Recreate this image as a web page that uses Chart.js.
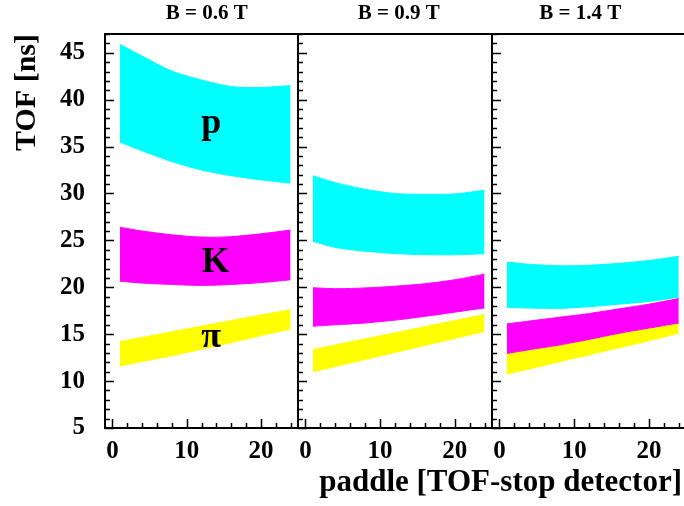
<!DOCTYPE html>
<html>
<head>
<meta charset="utf-8">
<script src="https://cdn.jsdelivr.net/npm/chart.js@4.4.1/dist/chart.umd.min.js"></script>
<style>
  html, body { margin: 0; padding: 0; background: #fff; overflow: hidden; }
  #wrap { position: relative; width: 684px; height: 506px; overflow: hidden; }
  canvas { position: absolute; top: 0; }
  #xTitle { position: absolute; right: 2px; top: 463px; font: bold 31px/36px "Liberation Serif", serif; color: #000; white-space: nowrap; }
</style>
</head>
<body>
<div id="wrap">
  <canvas id="c1" style="left:0" width="298" height="506"></canvas>
  <canvas id="c2" style="left:288px" width="204" height="506"></canvas>
  <canvas id="c3" style="left:482px" width="202" height="506"></canvas>
  <div id="xTitle">paddle [TOF-stop detector]</div>
</div>
<script>
// paddle numbers where the band edges were read
const paddle = [1, 4, 8, 12, 16, 20, 24];
const yTickLabels = [5, 10, 15, 20, 25, 30, 35, 40, 45];
const xTickLabels = [0, 10, 20];
const fields = ["B = 0.6 T", "B = 0.9 T", "B = 1.4 T"];
const particles = ["p", "K", "π"];

// B = 0.6 T
const p06Lo  = [35.5, 34.55, 33.4, 32.5, 31.9, 31.45, 31.1];
const p06Hi  = [45.9, 44.65, 43.05, 42.1, 41.4, 41.3, 41.5];
const k06Lo  = [20.65, 20.45, 20.3, 20.2, 20.3, 20.5, 20.8];
const k06Hi  = [26.4, 26.0, 25.6, 25.35, 25.4, 25.7, 26.1];
const pi06Lo = [11.6, 12.1, 12.7, 13.4, 14.1, 14.85, 15.55];
const pi06Hi = [14.2, 14.65, 15.25, 15.85, 16.45, 17.05, 17.6];

// B = 0.9 T
const p09Lo  = [24.9, 24.25, 23.85, 23.6, 23.48, 23.47, 23.57];
const p09Hi  = [31.9, 31.15, 30.45, 30.0, 29.9, 29.95, 30.35];
const k09Lo  = [15.85, 16.0, 16.2, 16.5, 16.9, 17.35, 17.8];
const k09Hi  = [19.95, 19.85, 19.93, 20.12, 20.38, 20.8, 21.4];
const pi09Lo = [11.0, 11.55, 12.3, 13.05, 13.8, 14.55, 15.3];
const pi09Hi = [13.35, 13.85, 14.5, 15.15, 15.8, 16.45, 17.1];

// B = 1.4 T
const p14Lo  = [17.87, 17.78, 17.75, 17.93, 18.2, 18.48, 18.95];
const p14Hi  = [22.7, 22.45, 22.3, 22.35, 22.55, 22.85, 23.3];
const k14Lo  = [12.95, 13.35, 13.85, 14.45, 15.1, 15.65, 16.2];
const k14Hi  = [16.1, 16.4, 16.8, 17.2, 17.7, 18.2, 18.8];
const pi14Lo = [10.75, 11.3, 12.05, 12.8, 13.55, 14.3, 15.1];
const pi14Hi = [13.2, 13.6, 14.1, 14.7, 15.35, 15.9, 16.45];

const CYAN = "#00ffff", MAGENTA = "#ff00ff", YELLOW = "#ffff00";
const SERIF = '"Liberation Serif", "Times New Roman", serif';

Chart.defaults.font.family = SERIF;
Chart.defaults.font.weight = "bold";
Chart.defaults.color = "#000";

function band(lo, hi, color) {
  const pts = v => paddle.map((x, i) => ({ x, y: v[i] }));
  const common = { borderColor: color, backgroundColor: color, borderWidth: 1, pointRadius: 0, tension: 0.3 };
  return [
    { ...common, data: pts(lo), fill: false },
    { ...common, data: pts(hi), fill: "-1" }
  ];
}

// top frame line, inward ticks, panel title and particle tags
const frame = {
  id: "frame",
  afterDraw(chart, args, opts) {
    const { ctx, chartArea: a, scales: { x, y } } = chart;
    ctx.save();
    ctx.strokeStyle = "#000";
    ctx.lineWidth = 2;
    ctx.beginPath();
    ctx.moveTo(a.left - 1, a.top);
    ctx.lineTo(a.right + 1, a.top);
    ctx.stroke();

    ctx.lineWidth = 1.5;
    ctx.beginPath();
    for (let v = Math.ceil(y.min); v <= y.max; v++) {
      const py = Math.round(y.getPixelForValue(v)) + 0.5;
      ctx.moveTo(a.left, py);
      ctx.lineTo(a.left + (v % 5 === 0 ? 9 : 5), py);
    }
    for (let v = 0; v <= x.max; v += 2) {
      const px = Math.round(x.getPixelForValue(v)) + 0.5;
      ctx.moveTo(px, a.bottom);
      ctx.lineTo(px, a.bottom - (v % 10 === 0 ? 9 : 5));
    }
    ctx.stroke();

    ctx.fillStyle = "#000";
    ctx.textAlign = "center";
    ctx.textBaseline = "middle";
    ctx.font = "bold 21px " + SERIF;
    ctx.fillText(opts.title, x.getPixelForValue(opts.titleAt), 14);

    ctx.textBaseline = "alphabetic";
    ctx.font = "bold 36px " + SERIF;
    (opts.tags || []).forEach(t => {
      ctx.fillText(t.text, x.getPixelForValue(t.x), y.getPixelForValue(t.y));
    });
    ctx.restore();
  }
};

function makePanel(id, sets, cfg) {
  return new Chart(document.getElementById(id), {
    type: "line",
    data: { datasets: sets },
    options: {
      responsive: false,
      animation: false,
      layout: { padding: { top: 34 } },
      plugins: {
        legend: { display: false },
        tooltip: { enabled: false },
        frame: cfg.frame
      },
      scales: {
        x: {
          type: "linear",
          min: -1,
          max: cfg.xMax,
          afterBuildTicks: s => { s.ticks = xTickLabels.map(v => ({ value: v })); },
          afterFit: s => { s.height = 78; },
          grid: { display: false, drawTicks: false },
          border: { display: true, color: "#000", width: 2 },
          ticks: { padding: 9, maxRotation: 0, font: { size: 25, weight: "bold" } }
        },
        y: {
          min: 5,
          max: 47,
          afterBuildTicks: s => { s.ticks = yTickLabels.map(v => ({ value: v })); },
          afterFit: s => { s.width = cfg.yWidth; },
          grid: { display: false, drawTicks: false },
          border: { display: true, color: "#000", width: 2 },
          ticks: { display: cfg.yLabels, padding: 20, font: { size: 25, weight: "bold", lineHeight: 1 } },
          title: {
            display: cfg.yLabels,
            text: "TOF [ns]",
            align: "end",
            padding: { top: 9, bottom: 0 },
            font: { size: 30, weight: "bold" }
          }
        }
      }
    },
    plugins: [frame]
  });
}

makePanel("c1",
  [...band(p06Lo, p06Hi, CYAN), ...band(k06Lo, k06Hi, MAGENTA), ...band(pi06Lo, pi06Hi, YELLOW)],
  {
    xMax: 25, yWidth: 105, yLabels: true,
    frame: {
      title: fields[0], titleAt: 12.7,
      tags: [
        { text: particles[0], x: 13.3, y: 36.5 },
        { text: particles[1], x: 13.9, y: 21.6 },
        { text: particles[2], x: 13.3, y: 13.6 }
      ]
    }
  });

makePanel("c2",
  [...band(p09Lo, p09Hi, CYAN), ...band(k09Lo, k09Hi, MAGENTA), ...band(pi09Lo, pi09Hi, YELLOW)],
  { xMax: 25, yWidth: 10, yLabels: false, frame: { title: fields[1], titleAt: 12.5 } });

makePanel("c3",
  [...band(p14Lo, p14Hi, CYAN), ...band(k14Lo, k14Hi, MAGENTA), ...band(pi14Lo, pi14Hi, YELLOW)],
  { xMax: 24.7, yWidth: 10, yLabels: false, frame: { title: fields[2], titleAt: 10.8 } });
</script>
</body>
</html>
